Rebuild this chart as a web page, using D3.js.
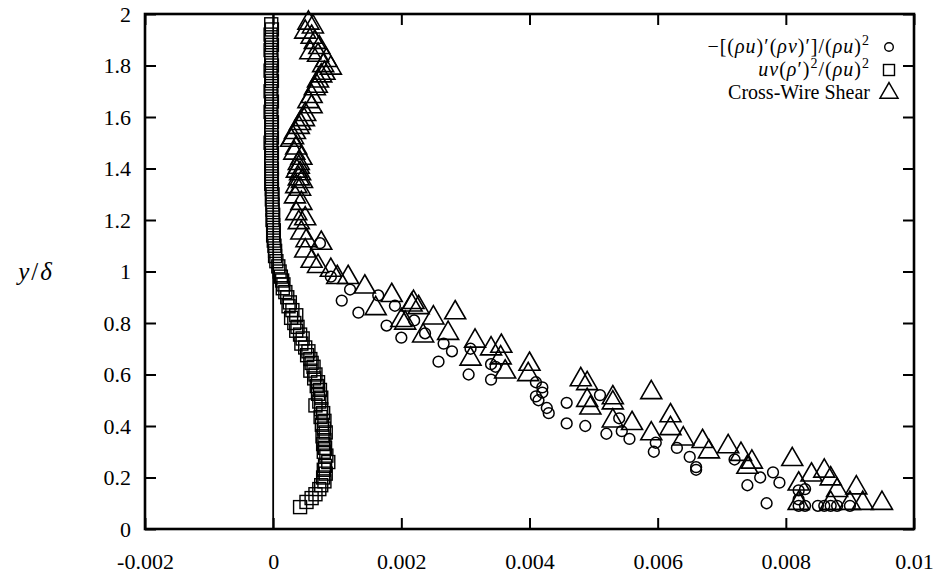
<!DOCTYPE html>
<html>
<head>
<meta charset="utf-8">
<script src="https://cdn.jsdelivr.net/npm/d3@7"></script>
<style>
  html, body { margin: 0; padding: 0; background: #fff; }
</style>
</head>
<body>
<svg id="chart" width="937" height="577"></svg>
<script>
// tick values and their printed labels
const xTicks = [-0.002, 0, 0.002, 0.004, 0.006, 0.008, 0.01]
const xTickLabels = ['-0.002', '0', '0.002', '0.004', '0.006', '0.008', '0.01']
const yTicks = [0, 0.2, 0.4, 0.6, 0.8, 1, 1.2, 1.4, 1.6, 1.8, 2]
const yTickLabels = ['0', '0.2', '0.4', '0.6', '0.8', '1', '1.2', '1.4', '1.6', '1.8', '2']

// -[(rho u)'(rho v)']/(rho u)^2  -> circles, [x, y/delta]
const circleData = [
  [0.00073, 1.11], [0.0009, 0.98], [0.00107, 0.887], [0.0012, 0.93], [0.00133, 0.84],
  [0.00164, 0.907], [0.00177, 0.79], [0.0019, 0.867], [0.002, 0.743], [0.0022, 0.81],
  [0.00237, 0.76], [0.00258, 0.65], [0.00266, 0.72], [0.00279, 0.69], [0.00305, 0.6],
  [0.00308, 0.7], [0.0034, 0.64], [0.0034, 0.58], [0.00347, 0.63], [0.0041, 0.57],
  [0.0042, 0.55], [0.0042, 0.53], [0.0041, 0.515], [0.00414, 0.5], [0.00427, 0.47],
  [0.0043, 0.45], [0.00458, 0.49], [0.00458, 0.41], [0.00487, 0.4], [0.0051, 0.52],
  [0.0052, 0.37], [0.0054, 0.43], [0.00544, 0.38], [0.00556, 0.35], [0.00594, 0.3],
  [0.00597, 0.335], [0.0063, 0.315], [0.0065, 0.28], [0.0066, 0.24], [0.0066, 0.23],
  [0.0072, 0.27], [0.0074, 0.17], [0.0076, 0.2], [0.0078, 0.22], [0.0079, 0.18],
  [0.0077, 0.1], [0.0082, 0.15], [0.0082, 0.115], [0.0083, 0.09], [0.0082, 0.09],
  [0.0085, 0.09], [0.0086, 0.09], [0.0087, 0.09], [0.0088, 0.09], [0.0083, 0.155],
  [0.009, 0.09]
]

// uv(rho')^2/(rho u)^2 -> squares
const squareData = [
  [-0.00003, 1.96], [-0.00002, 1.94], [-0.00004, 1.92], [-0.00003, 1.9], [-0.00002, 1.88],
  [-0.00004, 1.86], [-0.00003, 1.84], [-0.00003, 1.82], [-0.00002, 1.8], [-0.00004, 1.78],
  [-0.00003, 1.76], [-0.00002, 1.74], [-0.00003, 1.72], [-0.00004, 1.7], [-0.00003, 1.68],
  [-0.00002, 1.66], [-0.00003, 1.64], [-0.00004, 1.62], [-0.00003, 1.6], [-0.00002, 1.58],
  [-0.00003, 1.56], [-0.00003, 1.54], [-0.00002, 1.52], [-0.00004, 1.5], [-0.00003, 1.48],
  [-0.00002, 1.46], [-0.00003, 1.44], [-0.00003, 1.42], [-0.00002, 1.4], [-0.00003, 1.38],
  [-0.00002, 1.36], [-0.00003, 1.34], [-0.00002, 1.32], [-0.00001, 1.3], [-0.00002, 1.28],
  [-0.00001, 1.26], [-0.00001, 1.24], [0.0, 1.22], [-0.00001, 1.2], [0.0, 1.18],
  [0.00001, 1.16], [0.0, 1.14], [0.00001, 1.12], [0.00002, 1.1], [0.00003, 1.08],
  [0.00003, 1.06], [0.00005, 1.04], [0.00008, 1.02], [0.0001, 1.0], [0.00012, 0.98],
  [0.00014, 0.965], [0.00016, 0.95], [0.00015, 0.935], [0.00019, 0.92], [0.00022, 0.9],
  [0.00026, 0.88], [0.00024, 0.865], [0.0003, 0.85], [0.00036, 0.83], [0.00028, 0.82],
  [0.00033, 0.8], [0.00038, 0.785], [0.00036, 0.77], [0.00042, 0.755], [0.00046, 0.74],
  [0.00044, 0.72], [0.0005, 0.705], [0.00055, 0.69], [0.00053, 0.675], [0.00058, 0.66],
  [0.0006, 0.645], [0.00063, 0.63], [0.00058, 0.615], [0.00066, 0.6], [0.00064, 0.585],
  [0.0007, 0.57], [0.00068, 0.555], [0.00073, 0.54], [0.0007, 0.525], [0.00075, 0.51],
  [0.00072, 0.495], [0.00066, 0.48], [0.00075, 0.465], [0.00078, 0.45], [0.00074, 0.435],
  [0.0008, 0.42], [0.00076, 0.405], [0.00079, 0.39], [0.00082, 0.375], [0.00077, 0.36],
  [0.0008, 0.345], [0.00078, 0.33], [0.00081, 0.315], [0.00079, 0.3], [0.00083, 0.285],
  [0.00086, 0.26], [0.00081, 0.245], [0.00079, 0.23], [0.00082, 0.215], [0.00078, 0.2],
  [0.0008, 0.185], [0.00075, 0.17], [0.00072, 0.155], [0.00066, 0.135], [0.0006, 0.12],
  [0.00052, 0.105], [0.00042, 0.085]
]

// cross-wire shear -> triangles
const triangleData = [
  [0.00055, 1.965], [0.00062, 1.95], [0.0005, 1.93], [0.0006, 1.91], [0.00065, 1.89],
  [0.00072, 1.87], [0.00058, 1.85], [0.0007, 1.84], [0.00083, 1.82], [0.00078, 1.8],
  [0.0009, 1.79], [0.0008, 1.77], [0.00075, 1.76], [0.0007, 1.74], [0.00068, 1.72],
  [0.00065, 1.71], [0.0006, 1.68], [0.00055, 1.66], [0.0006, 1.64], [0.0005, 1.61],
  [0.00048, 1.59], [0.00042, 1.575], [0.0004, 1.56], [0.00034, 1.54], [0.00031, 1.52],
  [0.00028, 1.51], [0.00036, 1.48], [0.00033, 1.46], [0.00044, 1.44], [0.0004, 1.42],
  [0.0004, 1.405], [0.00037, 1.39], [0.00042, 1.38], [0.0004, 1.36], [0.00045, 1.35],
  [0.00036, 1.33], [0.00042, 1.32], [0.00034, 1.29], [0.00044, 1.265], [0.00036, 1.225],
  [0.0005, 1.205], [0.0004, 1.19], [0.00044, 1.15], [0.00052, 1.12], [0.00075, 1.11],
  [0.0005, 1.08], [0.0006, 1.04], [0.0007, 1.02], [0.0009, 1.005], [0.001, 0.977],
  [0.00117, 0.977], [0.00143, 0.94], [0.00185, 0.907], [0.0016, 0.856], [0.00216, 0.87],
  [0.002, 0.81], [0.00219, 0.88], [0.00227, 0.86], [0.0025, 0.82], [0.00284, 0.84],
  [0.00273, 0.76], [0.00234, 0.75], [0.00206, 0.8], [0.00315, 0.73], [0.00308, 0.66],
  [0.0034, 0.7], [0.00356, 0.71], [0.00355, 0.665], [0.00362, 0.61], [0.004, 0.64],
  [0.00398, 0.6], [0.0048, 0.58], [0.0049, 0.565], [0.0053, 0.51], [0.0059, 0.53],
  [0.0049, 0.5], [0.00495, 0.47], [0.0053, 0.49], [0.0053, 0.42], [0.0056, 0.41],
  [0.0059, 0.37], [0.0062, 0.44], [0.0062, 0.39], [0.0064, 0.35], [0.0067, 0.34],
  [0.0068, 0.3], [0.0071, 0.32], [0.0073, 0.29], [0.00747, 0.26], [0.0074, 0.24],
  [0.0081, 0.27], [0.0082, 0.175], [0.0084, 0.21], [0.0086, 0.225], [0.0087, 0.195],
  [0.0088, 0.15], [0.0082, 0.1], [0.0087, 0.1], [0.0091, 0.16], [0.009, 0.1],
  [0.0092, 0.1], [0.0095, 0.1]
]

const legendLabels = [
  [{ t: '−[(' }, { t: 'ρu', i: true }, { t: ')′(' }, { t: 'ρv', i: true }, { t: ')′]/(' }, { t: 'ρu', i: true }, { t: ')' }, { t: '2', sup: true }],
  [{ t: 'uv', i: true }, { t: '(' }, { t: 'ρ', i: true }, { t: '′)' }, { t: '2', sup: true }, { t: '/(' }, { t: 'ρu', i: true }, { t: ')' }, { t: '2', sup: true }],
  [{ t: 'Cross-Wire Shear' }]
]

const serif = '"Liberation Serif", serif'
const grid = { left: 145, right: 914, top: 14, bottom: 529 }
const fontSize = 22

const svg = d3.select('#chart')
const x = d3.scaleLinear().domain([-0.002, 0.01]).range([grid.left, grid.right])
const y = d3.scaleLinear().domain([0, 2]).range([grid.bottom, grid.top])

// zero line
svg.append('line')
  .attr('x1', x(0)).attr('x2', x(0))
  .attr('y1', grid.bottom).attr('y2', grid.top)
  .attr('stroke', '#000').attr('stroke-width', 1.8)

function styleAxis(g) {
  g.select('.domain').remove()
  g.selectAll('.tick line').attr('stroke', '#000').attr('stroke-width', 2)
  g.selectAll('.tick text').style('font-family', serif).style('font-size', fontSize + 'px').attr('fill', '#000')
}

svg.append('g')
  .attr('transform', `translate(0,${grid.bottom})`)
  .call(d3.axisBottom(x).tickValues(xTicks).tickFormat((d, i) => xTickLabels[i]).tickSizeInner(-11).tickSizeOuter(0).tickPadding(24))
  .call(styleAxis)
svg.append('g')
  .attr('transform', `translate(0,${grid.top})`)
  .call(d3.axisTop(x).tickValues(xTicks).tickFormat('').tickSizeInner(-11).tickSizeOuter(0))
  .call(styleAxis)
svg.append('g')
  .attr('transform', `translate(${grid.left},0)`)
  .call(d3.axisLeft(y).tickValues(yTicks).tickFormat((d, i) => yTickLabels[i]).tickSizeInner(-11).tickSizeOuter(0).tickPadding(14))
  .call(styleAxis)
svg.append('g')
  .attr('transform', `translate(${grid.right},0)`)
  .call(d3.axisRight(y).tickValues(yTicks).tickFormat('').tickSizeInner(-11).tickSizeOuter(0))
  .call(styleAxis)

// frame
svg.append('rect')
  .attr('x', grid.left).attr('y', grid.top)
  .attr('width', grid.right - grid.left).attr('height', grid.bottom - grid.top)
  .attr('fill', 'none').attr('stroke', '#000').attr('stroke-width', 2.6)

// y axis title
let yt = svg.append('text')
  .attr('x', 35).attr('y', 280)
  .attr('text-anchor', 'middle')
  .style('font-family', serif).style('font-size', '25px')
yt.append('tspan').attr('font-style', 'italic').text('y')
yt.append('tspan').attr('dx', 2).text('/')
yt.append('tspan').attr('dx', 2).attr('font-style', 'italic').text('δ')

// markers
const triPath = s => `M0,${-s * 0.58}L${s / 2},${s * 0.29}L${-s / 2},${s * 0.29}Z`
const marks = svg.append('g').attr('fill', 'none').attr('stroke', '#000')

marks.selectAll('circle.pt')
  .data(circleData)
  .join('circle')
  .attr('class', 'pt')
  .attr('cx', d => x(d[0])).attr('cy', d => y(d[1]))
  .attr('r', 5.4).attr('stroke-width', 1.5)

marks.selectAll('rect.pt')
  .data(squareData)
  .join('rect')
  .attr('class', 'pt')
  .attr('x', d => x(d[0]) - 6.5).attr('y', d => y(d[1]) - 6.5)
  .attr('width', 13).attr('height', 13).attr('stroke-width', 1.4)

marks.selectAll('path.pt')
  .data(triangleData)
  .join('path')
  .attr('class', 'pt')
  .attr('transform', d => `translate(${x(d[0])},${y(d[1])})`)
  .attr('d', triPath(21)).attr('stroke-width', 1.6)

// legend
const legendX = 870, legendSymX = 889, legendY = [47, 70, 93]
legendLabels.forEach((parts, k) => {
  let t = svg.append('text')
    .attr('x', legendX).attr('y', legendY[k] + 6)
    .attr('text-anchor', 'end')
    .style('font-family', serif).style('font-size', '20px')
    .attr('letter-spacing', k < 2 ? 1 : 0)
  let shifted = false
  parts.forEach(p => {
    let sp = t.append('tspan').text(p.t)
    if (p.i) sp.attr('font-style', 'italic')
    if (p.sup) {
      sp.style('font-size', '14px').attr('dy', -8)
      shifted = true
    } else if (shifted) {
      sp.attr('dy', 8)
      shifted = false
    }
  })
})
svg.append('circle').attr('cx', legendSymX).attr('cy', legendY[0])
  .attr('r', 4.3).attr('fill', 'none').attr('stroke', '#000').attr('stroke-width', 1.4)
svg.append('rect').attr('x', legendSymX - 5.5).attr('y', legendY[1] - 5.5)
  .attr('width', 11).attr('height', 11).attr('fill', 'none').attr('stroke', '#000').attr('stroke-width', 1.4)
svg.append('path').attr('transform', `translate(${legendSymX},${legendY[2]})`)
  .attr('d', triPath(18)).attr('fill', 'none').attr('stroke', '#000').attr('stroke-width', 1.5)
</script>
</body>
</html>
